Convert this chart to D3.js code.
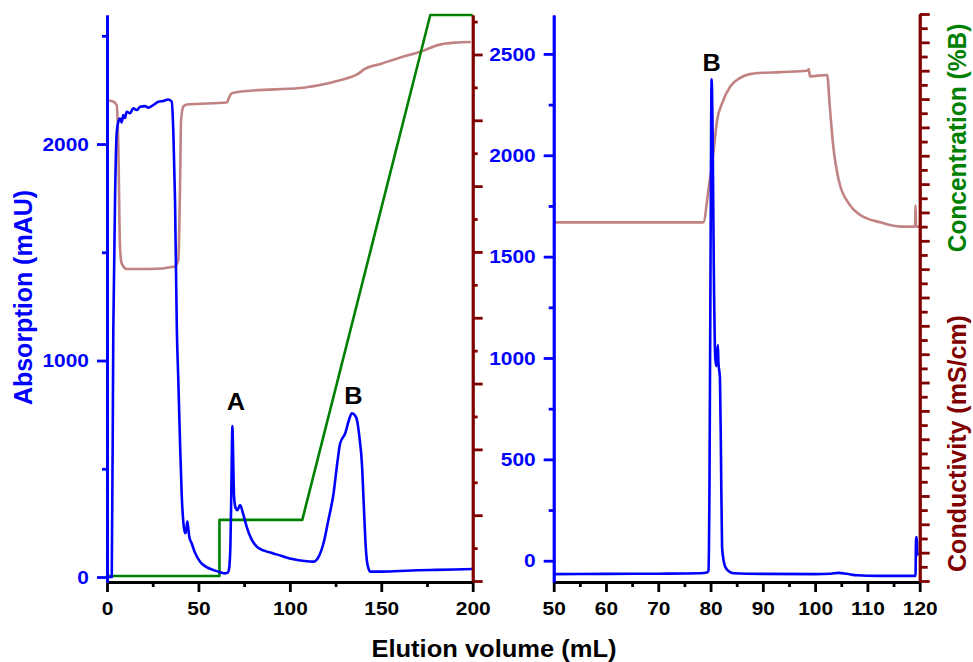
<!DOCTYPE html>
<html>
<head>
<meta charset="utf-8">
<script src="https://cdn.jsdelivr.net/npm/d3@7"></script>
<style>
  html, body { margin: 0; padding: 0; background: #fff; }
  svg { display: block; font-family: "Liberation Sans", Arial, sans-serif; font-weight: bold; }
</style>
</head>
<body>
<svg id="chart" width="973" height="662"></svg>
<script>
// ---- Run 1: full elution (0–200 mL) ----
const run1Volume = [0, 2.6, 3.45, 4.5, 5.3, 6.2, 7.1, 8.0, 8.9, 9.8, 10.8, 12.6, 14.4, 16.3, 18.1, 20.8, 22.6, 25.3, 28.1, 30.8, 33.6, 35.4, 36.3, 37.2, 38.2, 39, 40, 40.9, 41.8, 42.7, 43.3, 43.9, 44.4, 45, 46.3, 48, 50.9, 54, 58.2, 62, 64.6, 66, 66.8, 67.5, 68, 68.6, 69, 69.5, 70.3, 71.3, 72.8, 74.5, 76.4, 79, 81.9, 86, 91, 96, 102, 108, 112.9, 115.5, 118.4, 121, 123.9, 126, 127.5, 130.3, 132.5, 133.9, 135.5, 136.7, 138, 139.4, 140.5, 141.5, 142.1, 143, 144, 150, 160, 170, 180, 190, 200];
const run1Absorption = [0, 0, 1141, 1800, 2050, 2103, 2118, 2100, 2134, 2120, 2149, 2142, 2165, 2157, 2172, 2175, 2168, 2180, 2195, 2199, 2206, 2195, 2050, 1741, 1141, 910, 602, 371, 248, 202, 215, 256, 230, 186, 156, 115, 71, 48, 32, 22, 17, 20, 40, 150, 400, 697, 550, 371, 320, 309, 332, 290, 232, 175, 140, 122, 109, 96, 82, 74, 71, 90, 156, 260, 386, 530, 617, 664, 730, 756, 748, 725, 650, 525, 320, 140, 78, 40, 25, 25, 28, 31, 33, 35, 37];

const run1CondVolume = [0, 3, 5.3, 6.2, 7.1, 8.0, 10.8, 23.5, 37.2, 39, 40, 40.5, 41.8, 43.7, 65.5, 67, 68.2, 78.2, 105.6, 115, 127.5, 137, 141, 150, 160, 172, 182, 190, 199];
const run1Conductivity = [73.0, 72.9, 72.3, 66.0, 50.8, 48.3, 47.4, 47.4, 47.8, 48.8, 60.9, 70.0, 72.1, 72.4, 72.7, 73.6, 74.1, 74.5, 74.9, 75.3, 76.1, 77.0, 77.8, 78.6, 79.5, 80.5, 81.5, 81.8, 81.9];

const gradientVolume = [0, 61.5, 61.5, 106.8, 176.8, 200];
const gradientPercentB = [0, 0, 10, 10, 100, 100];

// ---- Run 2: re-chromatography (50–120 mL) ----
const run2Volume = [50, 60, 70, 78, 79.3, 79.6, 79.8, 80.0, 80.2, 80.4, 80.6, 80.9, 81.1, 81.4, 81.5, 81.8, 82.0, 82.2, 82.5, 82.8, 83.5, 84.4, 90, 100, 103, 104.5, 106, 108, 112, 119.2, 119.3, 119.45, 119.55, 119.7];
const run2Absorption = [-66, -65, -64, -62, -58, -50, 400, 1500, 2375, 2100, 1500, 1000, 960, 1064, 980, 900, 500, 69, 0, -30, -52, -62, -65, -66, -64, -60, -64, -72, -75, -75, 115, 115, 30, 40];

const run2CondVolume = [50, 78.6, 79.6, 80.6, 81.25, 82.2, 83.8, 85.7, 88.25, 93.4, 98.5, 98.8, 99.0, 102.3, 102.8, 103.4, 104.5, 106.7, 108.7, 112.5, 116.3, 119.1, 119.2, 119.3, 120];
const run2Conductivity = [25.3, 25.3, 27.6, 30.4, 32.5, 33.7, 34.9, 35.5, 35.8, 35.9, 36.0, 36.1, 35.6, 35.7, 33.5, 30.9, 28.3, 26.5, 25.8, 25.3, 25.0, 25.0, 26.5, 25.0, 25.0];

// ---- Axis ticks ----
const run1VolumeTicks = [0, 50, 100, 150, 200];
const run1VolumeMinor = [25, 75, 125, 175];
const run2VolumeTicks = [50, 60, 70, 80, 90, 100, 110, 120];
const run2VolumeMinor = [55, 65, 75, 85, 95, 105, 115];
const run1AbsTicks = [0, 1000, 2000];
const run1AbsMinor = [500, 1500, 2500];
const run2AbsTicks = [0, 500, 1000, 1500, 2000, 2500];
const run2AbsMinor = [250, 750, 1250, 1750, 2250];
const run1CondTicks = d3.range(0, 86, 5);
const run2CondTicks = d3.range(0, 41, 1);

const BLUE = "#0000ff", GREEN = "#008000", DARKRED = "#800000", COND = "#c08282";
const STRETCH = 1.1;

const svg = d3.select("#chart");

// scales
const xL = d3.scaleLinear().domain([0, 200]).range([107, 472.7]);
const xR = d3.scaleLinear().domain([50, 120]).range([553.7, 919.7]);
const yAbsL = d3.scaleLinear().domain([-23, 2596]).range([582, 15]);
const yAbsR = d3.scaleLinear().domain([-105, 2692]).range([582, 15]);
const yCondL = d3.scaleLinear().domain([0, 86]).range([581, 15]);
const yCondR = d3.scaleLinear().domain([0, 40]).range([581, 14]);
const yConc = d3.scaleLinear().domain([0, 100]).range([576, 15]);

function drawLine(xs, ys, sx, sy, color, width, curve) {
  const pts = xs.map((v, i) => [v, ys[i]]);
  svg.append("path")
    .datum(pts)
    .attr("fill", "none")
    .attr("stroke", color)
    .attr("stroke-width", width)
    .attr("stroke-linejoin", "round")
    .attr("d", d3.line().x(d => sx(d[0])).y(d => sy(d[1])).curve(curve || d3.curveLinear));
}

// conductivity traces
drawLine(run1CondVolume, run1Conductivity, xL, yCondL, COND, 2.6, d3.curveMonotoneX);
drawLine(run2CondVolume, run2Conductivity, xR, yCondR, COND, 2.6, d3.curveMonotoneX);
// gradient
drawLine(gradientVolume, gradientPercentB, xL, yConc, GREEN, 2.6);
// UV absorbance
drawLine(run1Volume, run1Absorption, xL, yAbsL, BLUE, 2.6, d3.curveMonotoneX);
drawLine(run2Volume, run2Absorption, xR, yAbsR, BLUE, 2.6, d3.curveMonotoneX);

// Moves axis label offsets into a transform so the glyphs can be widened
function widen(sel) {
  sel.each(function () {
    const t = d3.select(this);
    const x = +t.attr("x") || 0, y = +t.attr("y") || 0;
    t.attr("x", 0).attr("y", 0).attr("transform", `translate(${x},${y}) scale(${STRETCH},1)`);
  });
}

function styleAxis(g, color, width, labelColor) {
  g.select(".domain").attr("stroke", color).attr("stroke-width", width);
  g.selectAll(".tick line").attr("stroke", color).attr("stroke-width", width);
  g.selectAll(".tick text")
    .attr("fill", labelColor || color)
    .attr("font-size", 19)
    .attr("font-weight", "bold")
    .attr("font-family", "Liberation Sans, Arial, sans-serif");
}

function addAxis(axis, tx, ty, color, labelColor, hasLabels) {
  const g = svg.append("g").attr("transform", `translate(${tx},${ty})`).call(axis);
  styleAxis(g, color, 2.8, labelColor);
  if (hasLabels) widen(g.selectAll(".tick text")); else g.selectAll(".tick text").remove();
  return g;
}

// bottom axes (volume)
addAxis(d3.axisBottom(xL).tickValues(run1VolumeMinor).tickSize(5).tickSizeOuter(0).tickFormat(""), 0, 582, "#000", "#000", false);
addAxis(d3.axisBottom(xL).tickValues(run1VolumeTicks).tickSize(10).tickSizeOuter(0).tickPadding(10), 0, 582, "#000", "#000", true);
addAxis(d3.axisBottom(xR).tickValues(run2VolumeMinor).tickSize(5).tickSizeOuter(0).tickFormat(""), 0, 582, "#000", "#000", false);
addAxis(d3.axisBottom(xR).tickValues(run2VolumeTicks).tickSize(10).tickSizeOuter(0).tickPadding(10), 0, 582, "#000", "#000", true);

// absorbance axes
addAxis(d3.axisLeft(yAbsL).tickValues(run1AbsMinor).tickSize(5).tickSizeOuter(0).tickFormat(""), 107, 0, BLUE, BLUE, false);
addAxis(d3.axisLeft(yAbsL).tickValues(run1AbsTicks).tickSize(10).tickSizeOuter(0).tickPadding(8).tickFormat(d3.format("d")), 107, 0, BLUE, BLUE, true);
addAxis(d3.axisLeft(yAbsR).tickValues(run2AbsMinor).tickSize(5).tickSizeOuter(0).tickFormat(""), 553.7, 0, BLUE, BLUE, false);
addAxis(d3.axisLeft(yAbsR).tickValues(run2AbsTicks).tickSize(10).tickSizeOuter(0).tickPadding(8).tickFormat(d3.format("d")), 553.7, 0, BLUE, BLUE, true);

// conductivity axes (unlabelled)
addAxis(d3.axisRight(yCondL).tickValues(run1CondTicks.filter(v => v % 10 !== 0)).tickSize(5).tickSizeOuter(0).tickFormat(""), 472.7, 0, DARKRED, DARKRED, false);
addAxis(d3.axisRight(yCondL).tickValues(run1CondTicks.filter(v => v % 10 === 0)).tickSize(10).tickSizeOuter(0).tickFormat(""), 472.7, 0, DARKRED, DARKRED, false);
addAxis(d3.axisRight(yCondR).tickValues(run2CondTicks.filter(v => v % 2 !== 0)).tickSize(8).tickSizeOuter(0).tickFormat(""), 919.7, 0, DARKRED, DARKRED, false);
addAxis(d3.axisRight(yCondR).tickValues(run2CondTicks.filter(v => v % 2 === 0)).tickSize(10).tickSizeOuter(0).tickFormat(""), 919.7, 0, DARKRED, DARKRED, false);

// peak labels
function peakLabel(text, x, y) {
  svg.append("text")
    .attr("transform", `translate(${x},${y}) scale(${STRETCH},1)`)
    .attr("text-anchor", "middle")
    .attr("font-size", 23)
    .attr("fill", "#000")
    .text(text);
}
peakLabel("A", xL(70.5), yAbsL(697) - 16);
peakLabel("B", xL(134.8), yAbsL(756) - 9);
peakLabel("B", xR(80.2), yAbsR(2375) - 8);

// axis titles
svg.append("text")
  .attr("transform", `translate(494,656.5) scale(1.11,1)`)
  .attr("text-anchor", "middle")
  .attr("font-size", 23)
  .attr("fill", "#000")
  .text("Elution volume (mL)");

function sideTitle(text, x, y, color, size) {
  svg.append("text")
    .attr("transform", `translate(${x},${y}) scale(1.06,1) rotate(-90)`)
    .attr("text-anchor", "middle")
    .attr("font-size", size)
    .attr("fill", color)
    .text(text);
}
sideTitle("Absorption (mAU)", 31.5, 297.5, BLUE, 25);
sideTitle("Concentration (%B)", 965.5, 138, GREEN, 24.5);
sideTitle("Conductivity (mS/cm)", 965.5, 443.5, DARKRED, 25);
</script>
</body>
</html>
